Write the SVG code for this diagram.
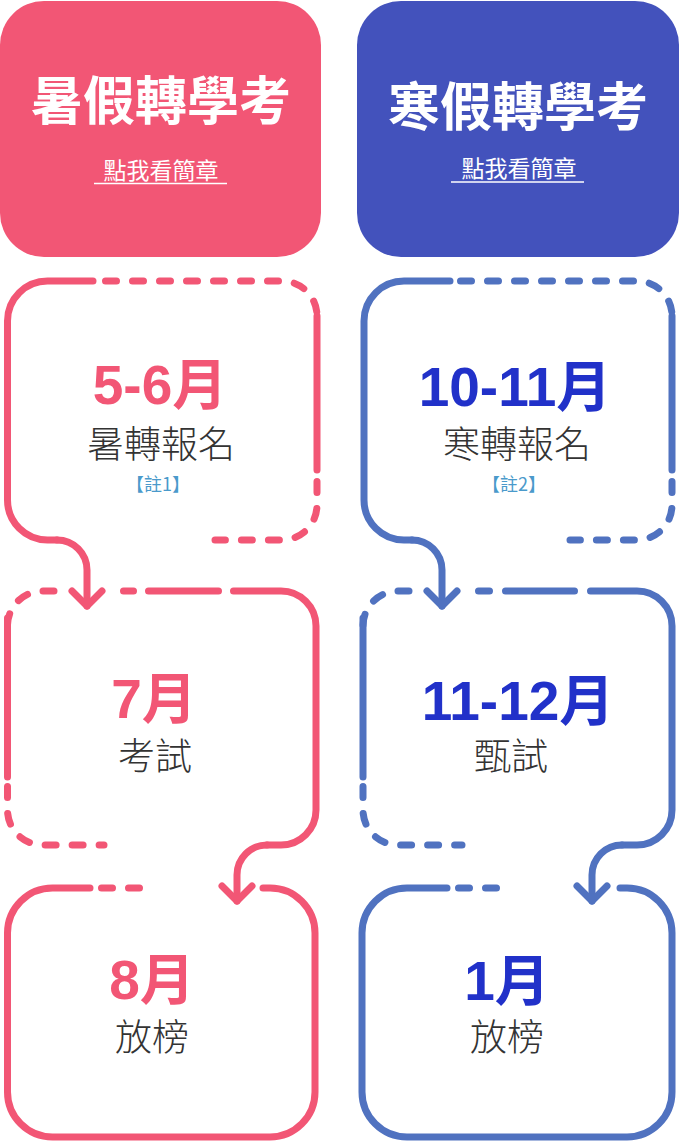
<svg xmlns="http://www.w3.org/2000/svg" width="679" height="1145" viewBox="0 0 679 1145">
<style>
.ln{fill:none;stroke-width:7;stroke-linecap:round;stroke-linejoin:round}
.pk{stroke:#F25675}
.bl{stroke:#5072C0}
.ds{stroke-dasharray:11 16}
.ttl{font-family:"Noto Sans CJK TC","Liberation Sans",sans-serif;font-weight:700;font-size:52px;fill:#fff;text-anchor:middle}
.lnk{font-family:"Noto Sans CJK TC","Liberation Sans",sans-serif;font-size:23px;fill:#fff;text-anchor:middle}
.mon{font-family:"Liberation Sans","Noto Sans CJK TC",sans-serif;font-weight:700;font-size:55px;text-anchor:middle}
.lbl{font-family:"Noto Sans CJK TC","Liberation Sans",sans-serif;font-weight:300;font-size:37px;fill:#333;text-anchor:middle}
.note{font-family:"Noto Sans CJK TC","Liberation Sans",sans-serif;font-size:18px;fill:#4A9ACB;text-anchor:middle}
.pkt{fill:#F25675}
.blt{fill:#2131C9}
</style>
<defs>
<marker id="ahp" markerUnits="userSpaceOnUse" orient="auto" refX="0" refY="0" markerWidth="40" markerHeight="40" overflow="visible">
<path d="M-15,-15 L0,0 L-15,15" fill="none" stroke="#F25675" stroke-width="7" stroke-linecap="round" stroke-linejoin="round"/>
</marker>
<marker id="ahb" markerUnits="userSpaceOnUse" orient="auto" refX="0" refY="0" markerWidth="40" markerHeight="40" overflow="visible">
<path d="M-15,-15 L0,0 L-15,15" fill="none" stroke="#5072C0" stroke-width="7" stroke-linecap="round" stroke-linejoin="round"/>
</marker>
</defs>

<g id="summer-header">
<rect x="0" y="1" width="321" height="256" rx="44" fill="#F25675"/>
<text class="ttl" x="161" y="120">暑假轉學考</text>
<text class="lnk" x="161" y="179">點我看簡章</text>
<line x1="94" y1="183.5" x2="227" y2="183.5" stroke="#fff" stroke-width="1.6"/>
</g>

<g id="winter-header">
<rect x="357" y="1" width="322" height="256" rx="44" fill="#4352BC"/>
<text class="ttl" x="518" y="126">寒假轉學考</text>
<text class="lnk" x="519" y="177">點我看簡章</text>
<line x1="451" y1="182" x2="584" y2="182" stroke="#fff" stroke-width="1.6"/>
</g>

<g id="summer-apply">
<path class="ln pk" d="M93,281 H47.5 A40,40 0 0 0 7.5,321 V500 A40,40 0 0 0 47.5,540 H57"/>
<path class="ln pk ds" d="M105.5,281 H282 A35,35 0 0 1 317,316"/>
<path class="ln pk" d="M317,316 V470"/>
<path class="ln pk ds" d="M317,481.5 V505 A35,35 0 0 1 282,540 H215"/>
<text class="mon pkt" x="160" y="404">5-6月</text>
<text class="lbl" x="161" y="458">暑轉報名</text>
<text class="note" x="158" y="491">【註1】</text>
</g>

<g id="summer-exam">
<path class="ln pk ds" d="M54,591 H42.5 A35,35 0 0 0 7.5,626"/>
<path class="ln pk" d="M7.5,618 V777"/>
<path class="ln pk ds" d="M7.5,786.5 V810 A35,35 0 0 0 42.5,845 H104"/>
<path class="ln pk" d="M123.5,591 H133.5 M148.5,591 H218.5"/>
<path class="ln pk" d="M233.5,591 H281 A35,35 0 0 1 316,626 V810 A35,35 0 0 1 281,845 H267"/>
<text class="mon pkt" x="154" y="718">7月</text>
<text class="lbl" x="155" y="770">考試</text>
</g>

<g id="summer-result">
<path class="ln pk" d="M263,888 H270 A45,45 0 0 1 315,933 V1092 A45,45 0 0 1 270,1137 H52.5 A45,45 0 0 1 7.5,1092 V933 A45,45 0 0 1 52.5,888 H90"/>
<path class="ln pk ds" d="M101.5,888 H140"/>
<text class="mon pkt" x="152" y="999">8月</text>
<text class="lbl" x="152" y="1051">放榜</text>
</g>

<g id="winter-apply">
<path class="ln bl" d="M450,281 H404 A40,40 0 0 0 364,321 V500 A40,40 0 0 0 404,540 H412"/>
<path class="ln bl ds" d="M460.5,281 H637 A35,35 0 0 1 672,316"/>
<path class="ln bl" d="M672,316 V470"/>
<path class="ln bl ds" d="M672,481.5 V505 A35,35 0 0 1 637,540 H570"/>
<text class="mon blt" x="515" y="406">10-11月</text>
<text class="lbl" x="517" y="458">寒轉報名</text>
<text class="note" x="514" y="491">【註2】</text>
</g>

<g id="winter-exam">
<path class="ln bl ds" d="M409,591 H398 A35,35 0 0 0 363,626"/>
<path class="ln bl" d="M363,618 V777"/>
<path class="ln bl ds" d="M363,786.5 V810 A35,35 0 0 0 398,845 H462"/>
<path class="ln bl" d="M478.5,591 H489.5 M505.5,591 H574.5"/>
<path class="ln bl" d="M590.5,591 H637 A35,35 0 0 1 672,626 V810 A35,35 0 0 1 637,845 H622"/>
<text class="mon blt" x="518" y="720">11-12月</text>
<text class="lbl" x="511" y="770">甄試</text>
</g>

<g id="winter-result">
<path class="ln bl" d="M620,888 H627 A45,45 0 0 1 672,933 V1092 A45,45 0 0 1 627,1137 H407 A45,45 0 0 1 362,1092 V933 A45,45 0 0 1 407,888 H447"/>
<path class="ln bl ds" d="M458.5,888 H497"/>
<text class="mon blt" x="507" y="1000">1月</text>
<text class="lbl" x="507" y="1051">放榜</text>
</g>

<g id="connectors">
<path class="ln pk" d="M57,540 A30,30 0 0 1 87,570 V606" marker-end="url(#ahp)"/>
<path class="ln pk" d="M267,845 A30,30 0 0 0 237,875 V901" marker-end="url(#ahp)"/>
<path class="ln bl" d="M412,540 A30,30 0 0 1 442,570 V606" marker-end="url(#ahb)"/>
<path class="ln bl" d="M622,845 A30,30 0 0 0 592,875 V901" marker-end="url(#ahb)"/>
</g>
</svg>
